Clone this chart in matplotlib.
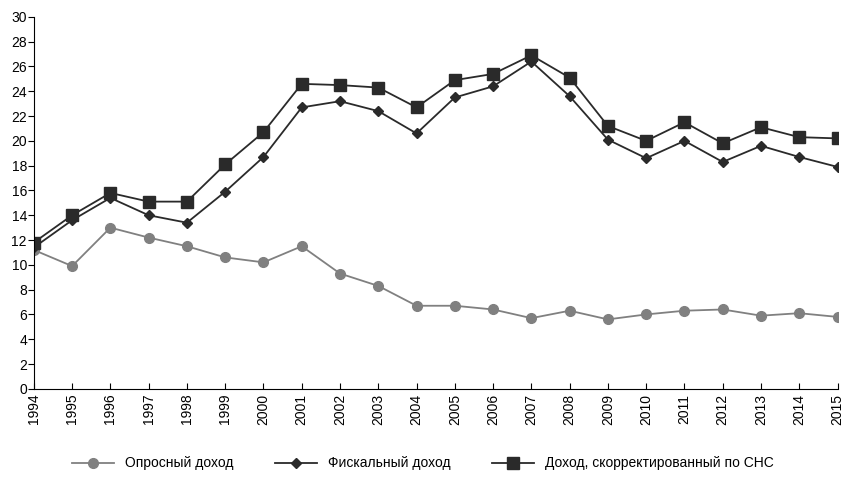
import matplotlib
matplotlib.use('Agg')
import matplotlib.pyplot as plt

years = list(range(1994, 2016))
survey = [11.2, 9.9, 13.0, 12.2, 11.5, 10.6, 10.2, 11.5, 9.3, 8.3, 6.7, 6.7, 6.4, 5.7, 6.3, 5.6, 6.0, 6.3, 6.4, 5.9, 6.1, 5.8]
fiscal = [11.4, 13.6, 15.4, 14.0, 13.4, 15.9, 18.7, 22.7, 23.2, 22.4, 20.6, 23.5, 24.4, 26.4, 23.6, 20.1, 18.6, 20.0, 18.3, 19.6, 18.7, 17.9]
sna = [11.8, 14.0, 15.8, 15.1, 15.1, 18.1, 20.7, 24.6, 24.5, 24.3, 22.7, 24.9, 25.4, 26.9, 25.1, 21.2, 20.0, 21.5, 19.8, 21.1, 20.3, 20.2]

plt.rcParams['font.family'] = ['Liberation Sans', 'DejaVu Sans']
fig, ax = plt.subplots(figsize=(8.46, 4.83), dpi=100)
fig.subplots_adjust(left=0.04, right=0.99, top=0.965, bottom=0.195)

ax.plot(years, survey, color='#808080', marker='o', ms=7, lw=1.3, label='Опросный доход')
ax.plot(years, fiscal, color='#2a2a2a', marker='D', ms=5.5, lw=1.3, label='Фискальный доход')
ax.plot(years, sna, color='#2a2a2a', marker='s', ms=8, lw=1.3, label='Доход, скорректированный по СНС')

ax.set_xlim(1994, 2015)
ax.set_ylim(0, 30)
ax.set_yticks(range(0, 31, 2))
ax.set_xticks(years)
ax.set_xticklabels([str(y) for y in years], rotation=90)
ax.tick_params(axis='both', labelsize=10, direction='in', length=4)
ax.tick_params(axis='y', direction='out', pad=1)
for s in ['top', 'right']:
    ax.spines[s].set_visible(False)
ax.margins(x=0)

fig.legend(loc='lower center', bbox_to_anchor=(0.5, 0.0), ncol=3, frameon=False,
           fontsize=10, handlelength=3, columnspacing=3)

fig.savefig('out.png')
